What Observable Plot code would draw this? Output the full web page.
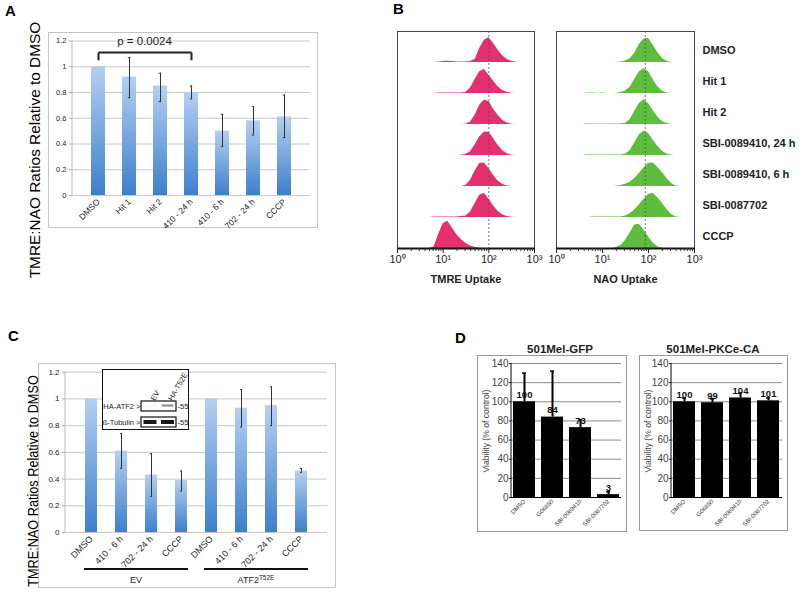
<!DOCTYPE html>
<html><head><meta charset="utf-8">
<script src="https://cdn.jsdelivr.net/npm/d3@7"></script>
<script src="https://cdn.jsdelivr.net/npm/@observablehq/plot@0.6"></script>
<style>
body{margin:0;background:#fff;font-family:"Liberation Sans",Arial,sans-serif;}
#root{position:relative;width:800px;height:595px;overflow:hidden;background:#fff;}
.frame{position:absolute;box-sizing:border-box;border:1px solid #c4c4c4;}
.letter{position:absolute;font-weight:bold;font-size:15px;line-height:15px;color:#000;}
.ytitle{position:absolute;transform:translate(-50%,-50%) rotate(-90deg);white-space:nowrap;line-height:1;color:#111;}
.ctitle{position:absolute;transform:translate(-50%,-50%);white-space:nowrap;font-weight:bold;font-size:11.5px;color:#222;}
svg{position:absolute;overflow:visible;}
</style></head>
<body><div id="root"></div>
<script>
// ---------------- DATA ----------------
// Panel A
const catsA = ["DMSO","Hit 1","Hit 2","410 - 24 h","410 - 6 h","702 - 24 h","CCCP"];
const meanA = [1.0,0.92,0.85,0.80,0.50,0.58,0.61];
const lowA  = [1.0,0.76,0.73,0.75,0.38,0.47,0.45];
const highA = [1.0,1.07,0.95,0.85,0.63,0.69,0.78];
const ticksRatio = [0,0.2,0.4,0.6,0.8,1,1.2];
const bracketA = [{from:"DMSO", to:"410 - 24 h", y:1.11, foot:1.05, label:"p = 0.0024"}];

// Panel B (histograms, heights per log10 bin)
const logBins = [0.6,0.7,0.8,0.9,1.0,1.1,1.2,1.3,1.4,1.5,1.6,1.7,1.8,1.9,2.0,2.1,2.2,2.3,2.4,2.5,2.6,2.7];
const rowsB = ["DMSO","Hit 1","Hit 2","SBI-0089410, 24 h","SBI-0089410, 6 h","SBI-0087702","CCCP"];
const tmreHist = [
  [0,0,0,.02,.03,.04,.03,.02,.02,.02,.03,.1,.45,.72,.8,.62,.4,.22,.1,.04,.01,0],
  [0,0,0,.02,.02,.02,.02,.02,.02,.04,.18,.45,.7,.78,.6,.4,.22,.1,.04,.01,0,0],
  [0,0,0,0,0,0,0,0,0,.01,.08,.3,.62,.78,.75,.5,.3,.14,.05,.01,0,0],
  [0,0,0,0,0,0,0,0,.01,.04,.12,.35,.6,.75,.76,.55,.33,.16,.06,.01,0,0],
  [0,0,0,0,0,0,0,0,0,.04,.2,.5,.74,.76,.58,.36,.18,.07,.02,0,0,0],
  [0,0,.02,.02,.02,.02,.02,.02,.03,.05,.18,.45,.72,.78,.6,.38,.2,.09,.03,.01,0,0],
  [0,0,.05,.45,.8,.88,.66,.44,.28,.16,.08,.03,.01,0,0,0,0,0,0,0,0,0]
];
const naoHist = [
  [0,0,0,0,0,0,0,0,.02,.05,.12,.3,.58,.76,.78,.56,.32,.14,.04,0,0,0],
  [0,.02,.02,0,.02,0,0,.01,.03,.08,.2,.45,.7,.8,.7,.45,.22,.08,.02,0,0,0],
  [.02,.02,.02,.02,.02,.02,.02,.02,.02,.04,.15,.42,.68,.8,.68,.45,.24,.1,.03,0,0,0],
  [.02,.02,.02,.02,.02,.02,.02,.02,.02,.04,.15,.4,.66,.78,.72,.5,.3,.14,.05,.01,0,0],
  [0,0,0,0,0,0,0,.01,.03,.07,.14,.26,.42,.6,.74,.76,.62,.45,.26,.1,.02,0],
  [0,0,.02,.02,.02,.02,.02,.02,.02,.05,.12,.24,.4,.58,.74,.78,.64,.46,.26,.1,.02,0],
  [0,0,0,0,0,0,0,.03,.1,.26,.5,.76,.78,.6,.38,.18,.06,.01,0,0,0,0]
];
const tmreRef = 100, naoRef = 85;

// Panel C
const catsC = ["EV|DMSO","EV|410 - 6 h","EV|702 - 24 h","EV|CCCP","ATF2|DMSO","ATF2|410 - 6 h","ATF2|702 - 24 h","ATF2|CCCP"];
const meanC = [1.0,0.61,0.43,0.39,1.0,0.93,0.95,0.46];
const lowC  = [1.0,0.48,0.27,0.31,1.0,0.79,0.80,0.45];
const highC = [1.0,0.74,0.59,0.46,1.0,1.07,1.09,0.48];
const groupsC = [{name:"EV", sup:"", from:"EV|DMSO", to:"EV|CCCP"},{name:"ATF2", sup:"T52E", from:"ATF2|DMSO", to:"ATF2|CCCP"}];
const blotRows = ["HA-ATF2","ß-Tubulin"];
const blotLanes = ["EV","HA-T52E"];
const blotIntensity = [[0.05,0.55],[0.92,0.92]];
const blotMarker = "55";

// Panel D
const catsD = ["DMSO","G06850","SBI-0089410","SBI-0087702"];
const gfpVals = [100,84,73,3];
const gfpErr  = [130,132,81,6];
const pkcVals = [100,99,104,101];
const pkcErr  = [104,103,109,104];
const ticksD = [0,20,40,60,80,100,120,140];

// ---------------- HELPERS ----------------
const FONT = '"Liberation Sans", Arial, sans-serif';
const NS = "http://www.w3.org/2000/svg";
const root = document.getElementById("root");
function svgEl(tag, attrs, text){ const e=document.createElementNS(NS,tag); for(const k in (attrs||{})) e.setAttribute(k, attrs[k]); if(text!=null) e.textContent=text; return e; }
function put(el, left, top){ el.style.position="absolute"; el.style.left=left+"px"; el.style.top=top+"px"; root.appendChild(el); return el; }
function div(cls, text, css){ const d=document.createElement("div"); d.className=cls; if(text) d.textContent=text; Object.assign(d.style, css||{}); return d; }
function gradDefs(id, top, bottom){ return () => { const defs=svgEl("defs"); defs.innerHTML=`<linearGradient id="${id}" x1="0" y1="0" x2="0" y2="1"><stop offset="0" stop-color="${top}"/><stop offset="1" stop-color="${bottom}"/></linearGradient>`; return defs; }; }
function yAxisLine(color, w){ return (i,s,v,{marginLeft,marginTop,height,marginBottom}) => svgEl("line",{x1:marginLeft,x2:marginLeft,y1:marginTop,y2:height-marginBottom,stroke:color,"stroke-width":w||1}); }
function errMarks(data, inset, color){ return [
  Plot.ruleX(data,{x:"cat",y1:"low",y2:"high",stroke:color,strokeWidth:1}),
  Plot.tickY(data,{x:"cat",y:"low",stroke:color,inset}),
  Plot.tickY(data,{x:"cat",y:"high",stroke:color,inset})]; }
const fmtRatio = d => d3.format("~g")(d);
const style = {fontFamily:FONT, background:"transparent", overflow:"visible", color:"#222"};

// letters
put(div("letter","A"),5,3);
put(div("letter","B"),393,1);
put(div("letter","C"),8,328);
put(div("letter","D"),455,330);

// ---------------- PANEL A ----------------
put(div("frame","",{width:"270px",height:"196px"}),48,32);
put(div("ytitle","TMRE:NAO Ratios Relative to DMSO",{fontSize:"15.4px",color:"#000"}),35,150);
const dataA = catsA.map((c,i)=>({cat:c, mean:meanA[i], low:lowA[i], high:highA[i]}));
const plotA = Plot.plot({
  width:270, height:196, marginLeft:24, marginRight:8, marginTop:8.5, marginBottom:33, style,
  x:{domain:catsA, padding:0.55}, y:{domain:[0,1.2]},
  marks:[
    gradDefs("gradA","#b4d0f0","#3d7fcd"),
    Plot.ruleY(ticksRatio,{stroke:"#c8c8c8"}),
    yAxisLine("#bbb"),
    Plot.axisY({ticks:ticksRatio, tickFormat:fmtRatio, tickSize:3, tickPadding:3, fontSize:7.5, label:null, stroke:"#aaa"}),
    Plot.axisX({tickRotate:-45, tickSize:0, tickPadding:5, fontSize:8.5, label:null}),
    Plot.barY(dataA,{x:"cat", y:"mean", fill:"url(#gradA)"}),
    ...errMarks(dataA.filter(d=>d.high>d.low), 5.8, "#333"),
    Plot.link(bracketA,{x1:"from",x2:"to",y1:"y",y2:"y",stroke:"#222",strokeWidth:2}),
    Plot.link(bracketA,{x1:"from",x2:"from",y1:"y",y2:"foot",stroke:"#222",strokeWidth:2}),
    Plot.link(bracketA,{x1:"to",x2:"to",y1:"y",y2:"foot",stroke:"#222",strokeWidth:2}),
    (i,{x,y}) => { const g=svgEl("g"); for(const b of bracketA){ g.append(svgEl("text",{x:(x(b.from)+x(b.to)+x.bandwidth())/2, y:y(b.y)-7, "text-anchor":"middle","font-size":11.5,fill:"#222"}, b.label)); } return g; }
  ]
});
put(plotA,48,32);

// ---------------- PANEL B ----------------
const minorTicks = [1,10,100].flatMap(d=>[2,3,4,5,6,7,8,9].map(k=>k*d));
const supFmt = d => "10" + "⁰¹²³"[Math.round(Math.log10(d))];
function histPlot(heights, color, ref, label, width, marginRight, withLabels){
  const n = rowsB.length;
  const data = rowsB.flatMap((r,i)=>logBins.map((b,j)=>({row:r, base:n-1-i, x:10**b, h:heights[i][j]})));
  const marks = [
    Plot.areaY(data,{x:"x", y1:"base", y2:d=>d.base+d.h, z:"row", fill:color}),
    Plot.ruleX([ref],{stroke:"#555", strokeDasharray:"2,2", strokeWidth:0.8}),
    Plot.frame({stroke:"#444"}),
    Plot.ruleY([0],{stroke:"#111", strokeWidth:2}),
    Plot.axisX({ticks:minorTicks, tickSize:3, tickFormat:()=>"", label:null, stroke:"#333"}),
    Plot.axisX({ticks:[1,10,100,1000], tickSize:5, tickPadding:2, tickFormat:supFmt, fontSize:11, label:null, stroke:"#222"}),
    Plot.text([label],{frameAnchor:"bottom", dy:34, fontWeight:"bold", fontSize:11, fill:"#222"})
  ];
  if (withLabels) marks.push(Plot.text(rowsB,{x:1000, y:(d,i)=>n-1-i+0.4, dx:8, textAnchor:"start", fontWeight:"bold", fontSize:11, fill:"#222"}));
  return Plot.plot({width, height:270, marginLeft:7, marginRight, marginTop:6, marginBottom:47, style,
    x:{type:"log", domain:[1,1000]}, y:{domain:[0,n], axis:null}, marks});
}
put(histPlot(tmreHist,"#e5306f",tmreRef,"TMRE Uptake",150,6,false),390,25);
put(histPlot(naoHist,"#5dbd3c",naoRef,"NAO Uptake",251,106,true),549,25);

// ---------------- PANEL C ----------------
put(div("frame","",{width:"298px",height:"225px"}),38,363);
put(div("ytitle","TMRE:NAO Ratios Relative to DMSO",{fontSize:"14.5px",color:"#000",transform:"translate(-50%,-50%) rotate(-90deg) scaleX(0.875)"}),33,481);
const dataC = catsC.map((c,i)=>({cat:c, mean:meanC[i], low:lowC[i], high:highC[i]}));
const plotC = Plot.plot({
  width:298, height:225, marginLeft:27, marginRight:9, marginTop:8.7, marginBottom:56, style,
  x:{domain:catsC, padding:0.6}, y:{domain:[0,1.2]},
  marks:[
    gradDefs("gradC","#b4d0f0","#3d7fcd"),
    Plot.ruleY(ticksRatio,{stroke:"#c8c8c8"}),
    yAxisLine("#bbb"),
    Plot.axisY({ticks:ticksRatio, tickFormat:fmtRatio, tickSize:3, tickPadding:3, fontSize:8, label:null, stroke:"#aaa"}),
    Plot.axisX({tickRotate:-45, tickSize:0, tickPadding:5, fontSize:9, label:null, tickFormat:d=>d.split("|")[1]}),
    Plot.barY(dataC,{x:"cat", y:"mean", fill:"url(#gradC)"}),
    ...errMarks(dataC.filter(d=>d.high>d.low), 5, "#333"),
    (i,{x},v,{height,marginBottom}) => { const g=svgEl("g"); const y0=height-marginBottom;
      for(const gr of groupsC){ const x1=x(gr.from)-1, x2=x(gr.to)+x.bandwidth()+1;
        g.append(svgEl("line",{x1,x2,y1:y0+37,y2:y0+37,stroke:"#111","stroke-width":2}));
        const t=svgEl("text",{x:(x1+x2)/2,y:y0+51,"text-anchor":"middle","font-size":9,fill:"#222"},gr.name);
        if(gr.sup){ t.append(svgEl("tspan",{"font-size":6.5,dy:-3.5},gr.sup)); }
        g.append(t);} return g; }
  ]
});
put(plotC,38,363);

// inset blot
put(div("frame","",{width:"87px",height:"61px",border:"1.5px solid #111",background:"#fff"}),102,369);
const blotCells = blotRows.flatMap((r,i)=>blotLanes.map((l,j)=>({row:r, lane:j, v:blotIntensity[i][j]})));
const blot = Plot.plot({
  width:87, height:61, marginLeft:39, marginRight:13, marginTop:32, marginBottom:3, style,
  x:{domain:[0,blotLanes.length], axis:null}, y:{domain:blotRows, paddingInner:0.4, paddingOuter:0},
  marks:[
    Plot.barX(blotRows,{y:d=>d, x1:0, x2:blotLanes.length, fill:"#fff", stroke:"#111", strokeWidth:1.2}),
    Plot.barX(blotCells.filter(d=>d.row===blotRows[0]),{y:"row", x1:d=>d.lane, x2:d=>d.lane+1, insetLeft:3, insetRight:2.5, insetTop:3.5, insetBottom:4.5, fill:d=>d3.interpolateGreys(d.v)}),
    Plot.barX(blotCells.filter(d=>d.row!==blotRows[0]),{y:"row", x1:d=>d.lane, x2:d=>d.lane+1, insetLeft:2.5, insetRight:2, insetTop:3, insetBottom:3, fill:d=>d3.interpolateGreys(d.v)}),
    Plot.axisY({tickSize:0, tickPadding:1, fontSize:7.5, label:null, tickFormat:d=>d+" >"}),
    Plot.text(blotLanes,{x:(d,i)=>i+0.5, frameAnchor:"top", dy:-3, rotate:-60, textAnchor:"start", fontSize:7.5, fill:"#222"}),
    Plot.text(blotRows,{x:blotLanes.length, y:d=>d, text:()=>"-"+blotMarker, dx:1, textAnchor:"start", fontSize:7.5, fill:"#222"})
  ]
});
put(blot,102,369);

// ---------------- PANEL D ----------------
function plotD(vals, errs, width, marginLeft){
  const data = catsD.map((c,i)=>({cat:c, v:vals[i], e:errs[i]}));
  return Plot.plot({width, height:177, marginLeft, marginRight:6, marginTop:8, marginBottom:35, style,
    x:{domain:catsD, paddingInner:0.2, paddingOuter:0.05}, y:{domain:[0,140]},
    marks:[
      Plot.ruleY(ticksD.slice(1),{stroke:"#8c8c8c"}),
      Plot.barY(data,{x:"cat", y:"v", fill:"#000"}),
      Plot.ruleX(data,{x:"cat", y1:"v", y2:"e", stroke:"#000", strokeWidth:2}),
      Plot.tickY(data,{x:"cat", y:"e", inset:9, stroke:"#000", strokeWidth:1.5}),
      Plot.ruleY([0],{stroke:"#000"}),
      yAxisLine("#000"),
      Plot.axisY({ticks:ticksD, tickSize:2, tickPadding:1, fontSize:10, label:null, fill:"#444"}),
      Plot.axisX({tickRotate:-45, tickSize:0, tickPadding:3, fontSize:6, label:null, fill:"#333"}),
      Plot.text(data,{x:"cat", y:"v", text:d=>String(d.v), dy:-7, fontSize:9.5, fontWeight:"bold", fill:"#111"})
    ]});
}
put(div("frame","",{width:"150px",height:"177px",borderColor:"#999"}),477,355);
put(div("frame","",{width:"149px",height:"176px",borderColor:"#999"}),639,355);
put(div("ctitle","501Mel-GFP"),560,349);
put(div("ctitle","501Mel-PKCe-CA"),713,349);
put(div("ytitle","Viability (% of control)",{fontSize:"8.6px",color:"#444"}),486,431);
put(div("ytitle","Viability (% of control)",{fontSize:"8.6px",color:"#444"}),648,431);
put(plotD(gfpVals,gfpErr,150,34),477,355);
put(plotD(pkcVals,pkcErr,149,32),639,355);
</script></body></html>
